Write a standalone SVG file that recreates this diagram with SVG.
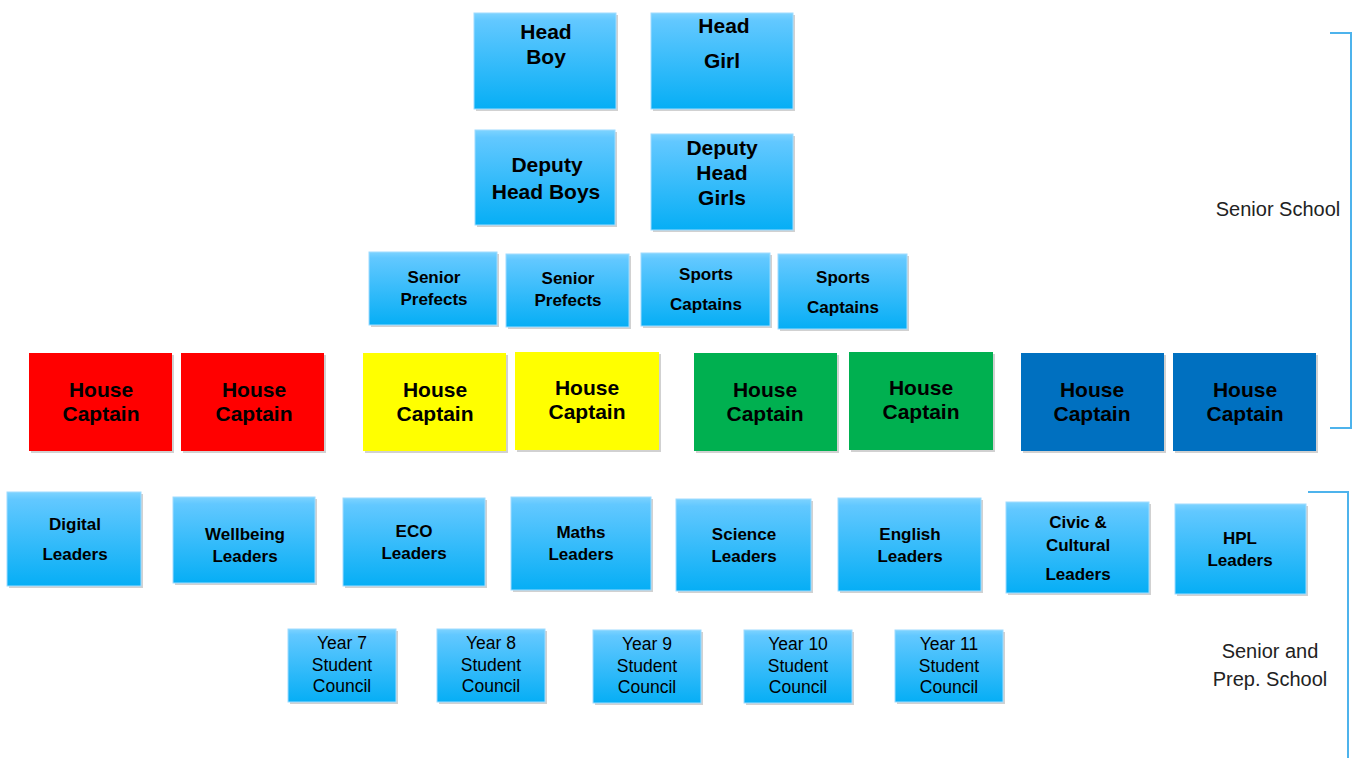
<svg xmlns="http://www.w3.org/2000/svg" width="1360" height="758" viewBox="0 0 1360 758">
<style>
.b{fill:url(#g);stroke:#9fdcff;stroke-width:1}
.t{font-family:"Liberation Sans",Arial,sans-serif;font-weight:bold;fill:#000;text-anchor:middle}
.r{font-family:"Liberation Sans",Arial,sans-serif;fill:#000;text-anchor:middle}
.h{font-size:21px}
.m{font-size:17px}
.s{font-size:17.5px}
.lbl{font-family:"Liberation Sans",Arial,sans-serif;font-size:20px;fill:#222;text-anchor:middle}
.red{fill:#ff0000}
.yel{fill:#ffff00}
.grn{fill:#00b050}
.blu{fill:#0070c0}
.sh{fill:#000;opacity:0.18}
.br{fill:none;stroke:#4db3ec;stroke-width:2}
</style>
<defs>
<linearGradient id="g" x1="0" y1="0" x2="0" y2="1">
<stop offset="0" stop-color="#7dd3ff"/>
<stop offset="0.08" stop-color="#62c8ff"/>
<stop offset="1" stop-color="#06aef5"/>
</linearGradient>
</defs>
<rect width="1360" height="758" fill="#fff"/>

<g id="head-boy"><rect class="sh" x="476" y="15" width="142" height="96"/><rect class="b" x="474" y="13" width="142" height="96"/><text class="t h" x="546" y="39">Head</text><text class="t h" x="546" y="64">Boy</text></g>
<g id="head-girl"><rect class="sh" x="653" y="15" width="142" height="96"/><rect class="b" x="651" y="13" width="142" height="96"/><text class="t h" x="724" y="33">Head</text><text class="t h" x="722" y="68">Girl</text></g>
<g id="deputy-head-boys"><rect class="sh" x="477" y="132" width="140" height="95"/><rect class="b" x="475" y="130" width="140" height="95"/><text class="t h" x="547" y="172">Deputy</text><text class="t h" x="546" y="199">Head Boys</text></g>
<g id="deputy-head-girls"><rect class="sh" x="653" y="136" width="142" height="96"/><rect class="b" x="651" y="134" width="142" height="96"/><text class="t h" x="722" y="155">Deputy</text><text class="t h" x="722" y="180">Head</text><text class="t h" x="722" y="205">Girls</text></g>

<g id="senior-prefects-1"><rect class="sh" x="371" y="254" width="128" height="73"/><rect class="b" x="369" y="252" width="128" height="73"/><text class="t m" x="434" y="283">Senior</text><text class="t m" x="434" y="305">Prefects</text></g>
<g id="senior-prefects-2"><rect class="sh" x="508" y="256" width="123" height="73"/><rect class="b" x="506" y="254" width="123" height="73"/><text class="t m" x="568" y="284">Senior</text><text class="t m" x="568" y="306">Prefects</text></g>
<g id="sports-captains-1"><rect class="sh" x="643" y="255" width="129" height="73"/><rect class="b" x="641" y="253" width="129" height="73"/><text class="t m" x="706" y="280">Sports</text><text class="t m" x="706" y="310">Captains</text></g>
<g id="sports-captains-2"><rect class="sh" x="780" y="256" width="129" height="75"/><rect class="b" x="778" y="254" width="129" height="75"/><text class="t m" x="843" y="283">Sports</text><text class="t m" x="843" y="313">Captains</text></g>

<g id="house-captain-red-1"><rect class="sh" x="31" y="355" width="143" height="98"/><rect class="red" x="29" y="353" width="143" height="98"/><text class="t h" x="101" y="397">House</text><text class="t h" x="101" y="421">Captain</text></g>
<g id="house-captain-red-2"><rect class="sh" x="183" y="355" width="143" height="98"/><rect class="red" x="181" y="353" width="143" height="98"/><text class="t h" x="254" y="397">House</text><text class="t h" x="254" y="421">Captain</text></g>
<g id="house-captain-yellow-1"><rect class="sh" x="365" y="355" width="143" height="98"/><rect class="yel" x="363" y="353" width="143" height="98"/><text class="t h" x="435" y="397">House</text><text class="t h" x="435" y="421">Captain</text></g>
<g id="house-captain-yellow-2"><rect class="sh" x="517" y="354" width="144" height="98"/><rect class="yel" x="515" y="352" width="144" height="98"/><text class="t h" x="587" y="395">House</text><text class="t h" x="587" y="419">Captain</text></g>
<g id="house-captain-green-1"><rect class="sh" x="696" y="355" width="143" height="98"/><rect class="grn" x="694" y="353" width="143" height="98"/><text class="t h" x="765" y="397">House</text><text class="t h" x="765" y="421">Captain</text></g>
<g id="house-captain-green-2"><rect class="sh" x="851" y="354" width="144" height="98"/><rect class="grn" x="849" y="352" width="144" height="98"/><text class="t h" x="921" y="395">House</text><text class="t h" x="921" y="419">Captain</text></g>
<g id="house-captain-blue-1"><rect class="sh" x="1023" y="355" width="143" height="98"/><rect class="blu" x="1021" y="353" width="143" height="98"/><text class="t h" x="1092" y="397">House</text><text class="t h" x="1092" y="421">Captain</text></g>
<g id="house-captain-blue-2"><rect class="sh" x="1175" y="355" width="143" height="98"/><rect class="blu" x="1173" y="353" width="143" height="98"/><text class="t h" x="1245" y="397">House</text><text class="t h" x="1245" y="421">Captain</text></g>

<g id="digital-leaders"><rect class="sh" x="9" y="494" width="134" height="94"/><rect class="b" x="7" y="492" width="134" height="94"/><text class="t m" x="75" y="530">Digital</text><text class="t m" x="75" y="560">Leaders</text></g>
<g id="wellbeing-leaders"><rect class="sh" x="175" y="499" width="142" height="86"/><rect class="b" x="173" y="497" width="142" height="86"/><text class="t m" x="245" y="540">Wellbeing</text><text class="t m" x="245" y="562">Leaders</text></g>
<g id="eco-leaders"><rect class="sh" x="345" y="500" width="142" height="88"/><rect class="b" x="343" y="498" width="142" height="88"/><text class="t m" x="414" y="537">ECO</text><text class="t m" x="414" y="559">Leaders</text></g>
<g id="maths-leaders"><rect class="sh" x="513" y="499" width="140" height="93"/><rect class="b" x="511" y="497" width="140" height="93"/><text class="t m" x="581" y="538">Maths</text><text class="t m" x="581" y="560">Leaders</text></g>
<g id="science-leaders"><rect class="sh" x="678" y="501" width="135" height="92"/><rect class="b" x="676" y="499" width="135" height="92"/><text class="t m" x="744" y="540">Science</text><text class="t m" x="744" y="562">Leaders</text></g>
<g id="english-leaders"><rect class="sh" x="840" y="500" width="143" height="93"/><rect class="b" x="838" y="498" width="143" height="93"/><text class="t m" x="910" y="540">English</text><text class="t m" x="910" y="562">Leaders</text></g>
<g id="civic-cultural-leaders"><rect class="sh" x="1008" y="504" width="143" height="91"/><rect class="b" x="1006" y="502" width="143" height="91"/><text class="t m" x="1078" y="528">Civic &amp;</text><text class="t m" x="1078" y="551">Cultural</text><text class="t m" x="1078" y="580">Leaders</text></g>
<g id="hpl-leaders"><rect class="sh" x="1177" y="506" width="131" height="90"/><rect class="b" x="1175" y="504" width="131" height="90"/><text class="t m" x="1240" y="544">HPL</text><text class="t m" x="1240" y="566">Leaders</text></g>

<g id="year-7-student-council"><rect class="sh" x="290" y="631" width="108" height="73"/><rect class="b" x="288" y="629" width="108" height="73"/><text class="r s" x="342" y="649">Year 7</text><text class="r s" x="342" y="671">Student</text><text class="r s" x="342" y="692">Council</text></g>
<g id="year-8-student-council"><rect class="sh" x="439" y="631" width="108" height="73"/><rect class="b" x="437" y="629" width="108" height="73"/><text class="r s" x="491" y="649">Year 8</text><text class="r s" x="491" y="671">Student</text><text class="r s" x="491" y="692">Council</text></g>
<g id="year-9-student-council"><rect class="sh" x="595" y="632" width="108" height="73"/><rect class="b" x="593" y="630" width="108" height="73"/><text class="r s" x="647" y="650">Year 9</text><text class="r s" x="647" y="672">Student</text><text class="r s" x="647" y="693">Council</text></g>
<g id="year-10-student-council"><rect class="sh" x="746" y="632" width="108" height="73"/><rect class="b" x="744" y="630" width="108" height="73"/><text class="r s" x="798" y="650">Year 10</text><text class="r s" x="798" y="672">Student</text><text class="r s" x="798" y="693">Council</text></g>
<g id="year-11-student-council"><rect class="sh" x="897" y="632" width="108" height="72"/><rect class="b" x="895" y="630" width="108" height="72"/><text class="r s" x="949" y="650">Year 11</text><text class="r s" x="949" y="672">Student</text><text class="r s" x="949" y="693">Council</text></g>

<g id="connectors">
<path class="br" d="M1330,33 H1351 V428 H1330"/>
<path class="br" d="M1308,492 H1348 V758"/>
</g>

<g id="labels">
<text class="lbl" x="1278" y="216">Senior School</text>
<text class="lbl" x="1270" y="658">Senior and</text>
<text class="lbl" x="1270" y="686">Prep. School</text>
</g>
</svg>
